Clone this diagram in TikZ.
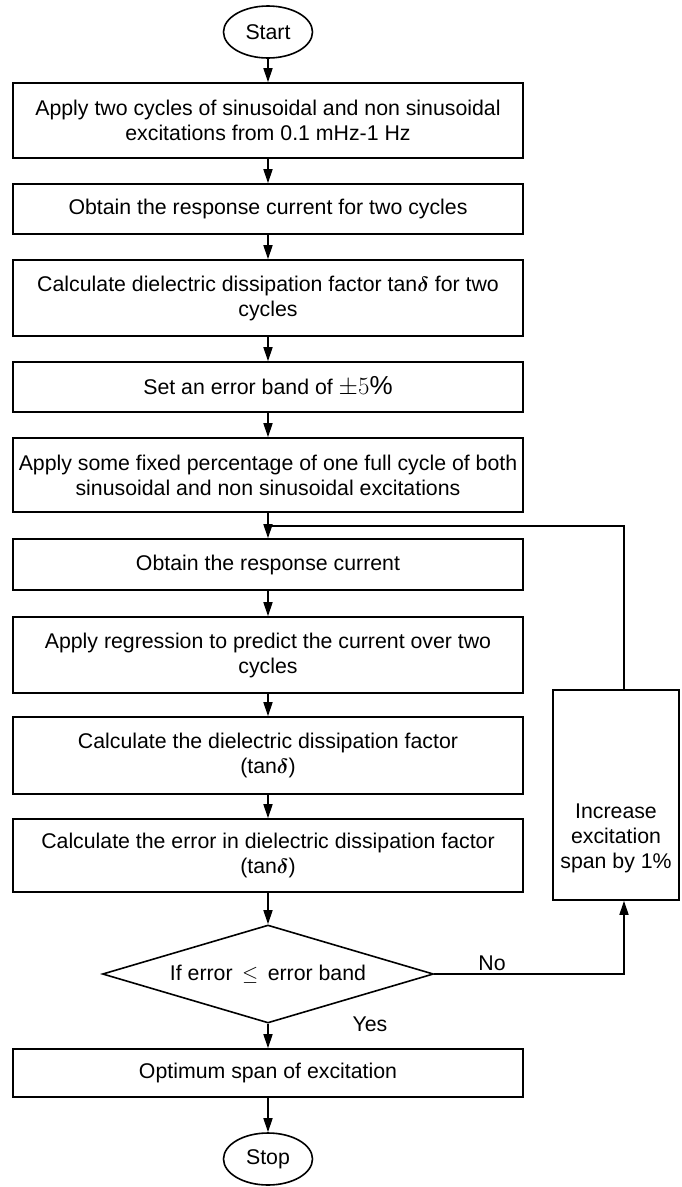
\documentclass[tikz,border=0pt]{standalone}
\usepackage{fontspec}
\setmainfont{Liberation Sans}
\usetikzlibrary{shapes.geometric,arrows.meta}
\newcommand{\tand}{tan{\boldmath$\delta$}}

\begin{document}
\begin{tikzpicture}[x=1pt,y=-1pt,
  every node/.style={font=\fontsize{21.3}{25}\selectfont},
  stepbox/.style={draw,line width=1.6pt,minimum width=510pt,align=center,inner sep=0pt},
  term/.style={draw,ellipse,line width=1.6pt,minimum width=89pt,minimum height=52pt,inner sep=0pt},
  test/.style={draw,diamond,aspect=3.4,line width=1.6pt,minimum width=331pt,minimum height=98pt,inner sep=0pt},
  arr/.style={line width=1.6pt,-{Triangle[length=14pt,width=9pt]}},
  wire/.style={line width=1.6pt}]

\useasboundingbox (0,0) rectangle (681,1187);

\node[term] (start) at (268,32) {Start};

\node[stepbox,minimum height=75pt] (apply) at (268,120.5)
  {Apply two cycles of sinusoidal and non sinusoidal\\excitations from 0.1 mHz-1 Hz};
\node[stepbox,minimum height=50pt] (resp) at (268,209) {Obtain the response current for two cycles};
\node[stepbox,minimum height=76pt] (diss) at (268,298)
  {Calculate dielectric dissipation factor \tand{} for two\\cycles};
\node[stepbox,minimum height=50pt] (band) at (268,387)
  {Set an error band of {\fontsize{26}{26}\selectfont$\pm5\%$}};
\node[stepbox,minimum height=74pt] (part) at (268,475)
  {Apply some fixed percentage of one full cycle of both\\sinusoidal and non sinusoidal excitations};
\node[stepbox,minimum height=51pt] (obt) at (268,564.5) {Obtain the response current};
\node[stepbox,minimum height=76pt] (regr) at (268,655)
  {Apply regression to predict the current over two\\cycles};
\node[stepbox,minimum height=77pt] (calc) at (268,755.5)
  {Calculate the dielectric dissipation factor\\(\tand)};
\node[stepbox,minimum height=73pt] (err) at (268,855.5)
  {Calculate the error in dielectric dissipation factor\\(\tand)};

\node[test] (check) at (268,974) {If error\, $\leq$\, error band};

\node[stepbox,minimum height=48pt] (opt) at (268,1073) {Optimum span of excitation};
\node[term] (stop) at (268,1159) {Stop};

\node[draw,line width=1.6pt,minimum width=126pt,minimum height=210pt,
  label={[align=center,yshift=-43pt]center:Increase\\excitation\\span by 1\%}]
  (incr) at (616,795) {};

\node (no) at (492,963) {No};
\node (yes) at (370,1024) {Yes};

\coordinate (back) at (624,526);

\draw[arr] (start) -- (apply);
\draw[arr] (apply) -- (resp);
\draw[arr] (resp) -- (diss);
\draw[arr] (diss) -- (band);
\draw[arr] (band) -- (part);
\draw[arr] (part) -- (obt);
\draw[arr] (obt) -- (regr);
\draw[arr] (regr) -- (calc);
\draw[arr] (calc) -- (err);
\draw[arr] (err) -- (check);
\draw[arr] (check) -- (opt);
\draw[arr] (opt) -- (stop);

\draw[arr] (check.east) -| (back |- incr.south);
\draw[wire] (back |- incr.north) -- (back) -- (obt.north |- back);

\end{tikzpicture}
\end{document}
